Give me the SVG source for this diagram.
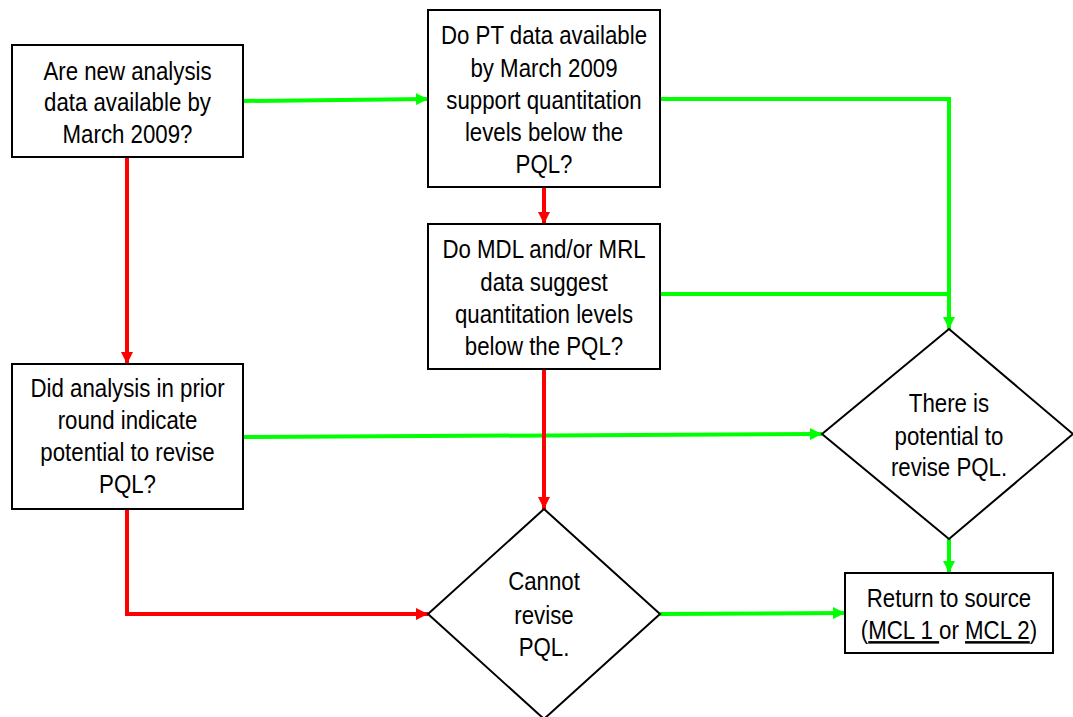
<svg xmlns="http://www.w3.org/2000/svg" width="1073" height="717" viewBox="0 0 1073 717">
<style>
.n{fill:#fff;stroke:#000;stroke-width:2}
.t{font-family:"Liberation Sans",Arial,sans-serif;font-size:25px;fill:#000;text-anchor:middle}
.r{fill:none;stroke:#ff0000;stroke-width:4}
.g{fill:none;stroke:#00ff00;stroke-width:4}
.u{text-decoration:underline}
</style>
<defs>
<marker id="ar" viewBox="0 0 12 12" refX="12" refY="6" markerWidth="12" markerHeight="12" markerUnits="userSpaceOnUse" orient="auto"><path d="M0,0L12,6L0,12z" fill="#ff0000"/></marker>
<marker id="ag" viewBox="0 0 12 12" refX="12" refY="6" markerWidth="12" markerHeight="12" markerUnits="userSpaceOnUse" orient="auto"><path d="M0,0L12,6L0,12z" fill="#00ff00"/></marker>
</defs>
<rect width="1073" height="717" fill="#fff"/>
<g id="connectors">
<path class="g" d="M243,101L428,99" marker-end="url(#ag)"/>
<path class="g" d="M660,99H949V329" marker-end="url(#ag)"/>
<path class="g" d="M660,294H949"/>
<path class="r" d="M544,187V224" marker-end="url(#ar)"/>
<path class="r" d="M127,157V364" marker-end="url(#ar)"/>
<path class="g" d="M243,437L822,434" marker-end="url(#ag)"/>
<path class="r" d="M544,369V509" marker-end="url(#ar)"/>
<path class="r" d="M127,509V614H428" marker-end="url(#ar)"/>
<path class="g" d="M660,614L845,613" marker-end="url(#ag)"/>
<path class="g" d="M949,539V573" marker-end="url(#ag)"/>
</g>
<g id="n1"><rect class="n" x="12" y="45" width="231" height="112"/>
<g transform="translate(127.5,0) scale(0.89,1)"><text class="t" x="0" y="80">Are new analysis</text><text class="t" x="0" y="111.5">data available by</text><text class="t" x="0" y="143">March 2009?</text></g></g>
<g id="n2"><rect class="n" x="428" y="10" width="232" height="177"/>
<g transform="translate(544,0) scale(0.89,1)"><text class="t" x="0" y="44">Do PT data available</text><text class="t" x="0" y="77">by March 2009</text><text class="t" x="0" y="109">support quantitation</text><text class="t" x="0" y="141">levels below the</text><text class="t" x="0" y="173">PQL?</text></g></g>
<g id="n3"><rect class="n" x="428" y="224" width="232" height="145"/>
<g transform="translate(544,0) scale(0.89,1)"><text class="t" x="0" y="258">Do MDL and/or MRL</text><text class="t" x="0" y="291">data suggest</text><text class="t" x="0" y="323">quantitation levels</text><text class="t" x="0" y="355">below the PQL?</text></g></g>
<g id="n4"><rect class="n" x="12" y="364" width="231" height="145"/>
<g transform="translate(127.5,0) scale(0.89,1)"><text class="t" x="0" y="397">Did analysis in prior</text><text class="t" x="0" y="429">round indicate</text><text class="t" x="0" y="461">potential to revise</text><text class="t" x="0" y="493">PQL?</text></g></g>
<g id="n5"><path class="n" d="M949,329L1073,434L949,539L822,434Z"/>
<g transform="translate(949,0) scale(0.89,1)"><text class="t" x="0" y="412">There is</text><text class="t" x="0" y="445">potential to</text><text class="t" x="0" y="476">revise PQL.</text></g></g>
<g id="n6"><path class="n" d="M544,509L660,614L544,719L428,614Z"/>
<g transform="translate(544,0) scale(0.89,1)"><text class="t" x="0" y="590">Cannot</text><text class="t" x="0" y="624">revise</text><text class="t" x="0" y="656">PQL.</text></g></g>
<g id="n7"><rect class="n" x="845" y="573" width="208" height="80"/>
<g transform="translate(949,0) scale(0.89,1)"><text class="t" x="0" y="607">Return to source</text><text class="t" x="0" y="639">(<tspan class="u">MCL 1 </tspan>or <tspan class="u">MCL 2</tspan>)</text></g></g>
</svg>
